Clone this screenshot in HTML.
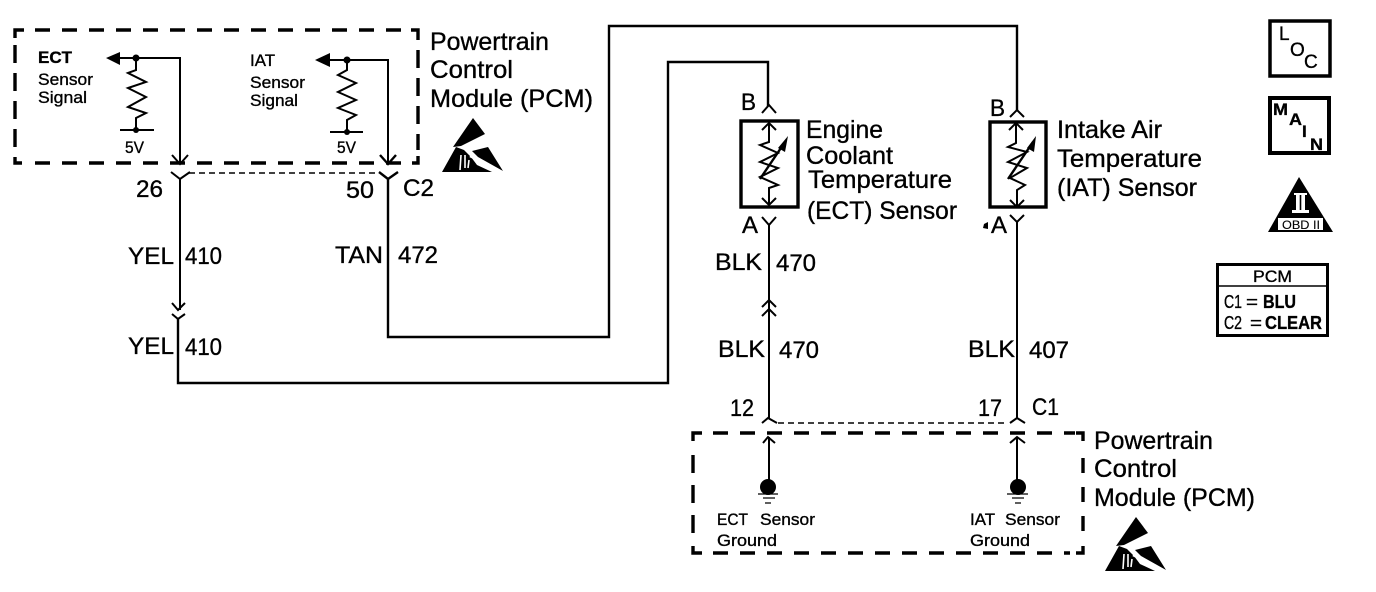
<!DOCTYPE html>
<html><head><meta charset="utf-8"><style>
html,body{margin:0;padding:0;background:#fff;width:1376px;height:592px;overflow:hidden}
svg{display:block}
text{font-family:"Liberation Sans",sans-serif;fill:#000;stroke:#000;stroke-width:.35}
.l{font-size:25px}.m{font-size:24px}.s{font-size:17px}
</style></head><body>
<svg width="1376" height="592" viewBox="0 0 1376 592" xmlns="http://www.w3.org/2000/svg">
<defs>
<g id="esd"><path d="M473 118L485 134L461 146L453 147Z"/><path d="M442 172L456 147L464 150L471 157L477 165L492 172Z"/><path d="M488 147L503 171L478 157L472 151Z"/><path d="M470 156L502 172" stroke="#fff" stroke-width="2.5" fill="none"/><path d="M461 155L460 170M465 155L465 168M469 160L468 168" stroke="#fff" stroke-width="1.6" fill="none"/></g>
</defs>
<g fill="none" stroke="#000">
<!-- dashed boxes -->
<g stroke-width="3.4">
<path d="M35 30H410" stroke-dasharray="15 12"/>
<path d="M15 38V30H24M411 30H418V40M15 157V163H22M412 163H418V156"/>
<path d="M15 45V150" stroke-dasharray="18 10"/>
<path d="M418 50V150" stroke-dasharray="18 10"/>
<path d="M35 163H405" stroke-dasharray="15 12"/>
<path d="M713 433H1075" stroke-dasharray="15 12"/>
<path d="M693 441V433H702M1076 433H1083V441M693 546V553H702M1076 553H1083V546"/>
<path d="M693 455V535" stroke-dasharray="18 12"/>
<path d="M1083 458V532" stroke-dasharray="15 14"/>
<path d="M713 553H1070" stroke-dasharray="15 12"/>
</g>
<!-- connector dashed -->
<path d="M189 173H378" stroke-width="1.6" stroke-dasharray="6 4"/>
<path d="M778 423H1008" stroke-width="1.6" stroke-dasharray="6 4"/>
<!-- wires -->
<path d="M120 58H180V164" stroke-width="2"/>
<path d="M330 60H388V164" stroke-width="2"/>
<path d="M180 178V310" stroke-width="2"/>
<path d="M178 319V383H668V62H768V106" stroke-width="2.4"/>
<path d="M388 178V337H609V26H1017V110" stroke-width="2.4"/>
<path d="M769 224V418" stroke-width="2"/>
<path d="M1017 222V418" stroke-width="2"/>
<path d="M769 437V482" stroke-width="2"/>
<path d="M1017 437V482" stroke-width="2"/>
<!-- connector arrows -->
<path d="M172 155L180 164L188 155M171 172L180 179L190 172" stroke-width="2"/>
<path d="M380 155L388 164L396 155M379 172L388 179L398 172" stroke-width="2.4"/>
<path d="M172 303L178 310L185 303M172 314L178 319L185 314" stroke-width="2"/>
<path d="M762 113L769 105L776 113" stroke-width="2"/>
<path d="M762 217L769 225L776 217" stroke-width="2"/>
<path d="M1010 117L1017 110L1024 117" stroke-width="2"/>
<path d="M1010 215L1017 222L1024 215" stroke-width="2"/>
<path d="M762 307L769 300L776 307M762 316L769 309L776 316" stroke-width="2"/>
<path d="M762 423L768 418L777 423M763 443L768 437L775 443" stroke-width="2"/>
<path d="M1010 423L1017 418L1025 423M1010 443L1017 437L1025 443" stroke-width="2"/>
<!-- sensors -->
<rect x="741" y="121" width="57" height="86" stroke-width="3.4"/>
<rect x="990" y="122" width="56" height="85" stroke-width="3.4"/>
<path d="M769 123V142L760 145L778 153L760 162L778 168L760 177L778 185L769 188V205M762 130L769 123L776 130M762 198L769 205L776 198" stroke-width="2"/>
<path d="M1016 123V143L1008 147L1027 152L1008 162L1027 168L1010 178L1025 185L1017 190V207M1009 130L1016 123L1023 130M1010 200L1017 207L1024 200" stroke-width="2"/>
<path d="M760 179L785 142" stroke-width="2.4"/>
<path d="M1008 179L1033 142" stroke-width="2.4"/>
<!-- resistors -->
<path d="M136 58V70L128 73L146 82L128 88L146 97L128 107L146 113L136 118V130M120 130H154" stroke-width="2"/>
<path d="M347 60V70L338 75L356 83L338 92L356 100L338 108L356 115L347 120V132M330 132H363" stroke-width="2"/>
<!-- grounds -->
<path d="M758 494H778M763 498H775M765 503H771" stroke-width="1.2"/>
<path d="M1007 494H1028M1012 498H1024M1015 503H1021" stroke-width="1.2"/>
<!-- badges -->
<rect x="1270" y="21" width="60" height="55" stroke-width="3.5"/>
<rect x="1270" y="98" width="59" height="55" stroke-width="4"/>
<rect x="1217.5" y="264.5" width="110" height="71" stroke-width="3"/>
<path d="M1218 286H1328" stroke-width="1.6"/>
</g>
<!-- solid marks -->
<path d="M106 58L120 52V65Z"/><path d="M315 60L330 53V67Z"/>
<circle cx="136" cy="58" r="3.5"/><circle cx="347" cy="60" r="3.5"/>
<circle cx="136" cy="130" r="3"/><circle cx="347" cy="132" r="3"/>
<path d="M788 136L785 152L778 148Z"/><path d="M1036 136L1034 152L1027 148Z"/>
<circle cx="768" cy="487" r="8"/><circle cx="1018" cy="487" r="8"/>
<path d="M984 224L988 222V229L983 228Z"/>
<path d="M1299 177L1333 232H1268Z"/>
<rect x="1278" y="218" width="45" height="12" fill="#fff"/>
<path d="M1294 193H1307V195H1305V210H1309V213H1292V210H1296V195H1294Z" fill="#fff"/>
<path d="M1300.5 195V210" stroke="#000" stroke-width="1.6"/>
<use href="#esd"/>
<use href="#esd" transform="translate(663 399)"/>
<!-- text -->
<text class="l" x="430" y="50" textLength="119" lengthAdjust="spacingAndGlyphs">Powertrain</text>
<text class="l" x="430" y="78" textLength="83" lengthAdjust="spacingAndGlyphs">Control</text>
<text class="l" x="430" y="107" textLength="163" lengthAdjust="spacingAndGlyphs">Module (PCM)</text>
<text class="l" x="1094" y="449" textLength="119" lengthAdjust="spacingAndGlyphs">Powertrain</text>
<text class="l" x="1094" y="477" textLength="83" lengthAdjust="spacingAndGlyphs">Control</text>
<text class="l" x="1094" y="506" textLength="161" lengthAdjust="spacingAndGlyphs">Module (PCM)</text>
<text class="s" x="38" y="63" style="font-weight:bold" textLength="34" lengthAdjust="spacingAndGlyphs">ECT</text>
<text class="s" x="38" y="85" textLength="55" lengthAdjust="spacingAndGlyphs">Sensor</text>
<text class="s" x="38" y="103" textLength="49" lengthAdjust="spacingAndGlyphs">Signal</text>
<text class="s" x="250" y="66" textLength="25" lengthAdjust="spacingAndGlyphs">IAT</text>
<text class="s" x="250" y="88" textLength="55" lengthAdjust="spacingAndGlyphs">Sensor</text>
<text class="s" x="250" y="106" textLength="48" lengthAdjust="spacingAndGlyphs">Signal</text>
<text class="s" x="125" y="153" textLength="19" lengthAdjust="spacingAndGlyphs">5V</text>
<text class="s" x="337" y="153" textLength="19" lengthAdjust="spacingAndGlyphs">5V</text>
<text class="m" x="136" y="197" textLength="27" lengthAdjust="spacingAndGlyphs">26</text>
<text class="m" x="346" y="198" textLength="28" lengthAdjust="spacingAndGlyphs">50</text>
<text class="m" x="403" y="196" textLength="31" lengthAdjust="spacingAndGlyphs">C2</text>
<text class="m" x="128" y="264" textLength="46" lengthAdjust="spacingAndGlyphs">YEL</text>
<text class="m" x="185" y="264" textLength="37" lengthAdjust="spacingAndGlyphs">410</text>
<text class="m" x="128" y="354" textLength="46" lengthAdjust="spacingAndGlyphs">YEL</text>
<text class="m" x="185" y="355" textLength="37" lengthAdjust="spacingAndGlyphs">410</text>
<text class="m" x="335" y="263" textLength="48" lengthAdjust="spacingAndGlyphs">TAN</text>
<text class="m" x="398" y="263" textLength="40" lengthAdjust="spacingAndGlyphs">472</text>
<text class="m" x="741" y="110" textLength="15" lengthAdjust="spacingAndGlyphs">B</text>
<text class="m" x="990" y="116" textLength="15" lengthAdjust="spacingAndGlyphs">B</text>
<text class="m" x="742" y="233" textLength="16" lengthAdjust="spacingAndGlyphs">A</text>
<text class="m" x="991" y="233" textLength="16" lengthAdjust="spacingAndGlyphs">A</text>
<text class="l" x="806" y="138" textLength="77" lengthAdjust="spacingAndGlyphs">Engine</text>
<text class="l" x="806" y="164" textLength="87" lengthAdjust="spacingAndGlyphs">Coolant</text>
<text class="l" x="808" y="188" textLength="144" lengthAdjust="spacingAndGlyphs">Temperature</text>
<text class="l" x="807" y="219" textLength="150" lengthAdjust="spacingAndGlyphs">(ECT) Sensor</text>
<text class="l" x="1057" y="138" textLength="105" lengthAdjust="spacingAndGlyphs">Intake Air</text>
<text class="l" x="1057" y="167" textLength="145" lengthAdjust="spacingAndGlyphs">Temperature</text>
<text class="l" x="1057" y="196" textLength="140" lengthAdjust="spacingAndGlyphs">(IAT) Sensor</text>
<text class="m" x="715" y="270" textLength="47" lengthAdjust="spacingAndGlyphs">BLK</text>
<text class="m" x="776" y="271" textLength="40" lengthAdjust="spacingAndGlyphs">470</text>
<text class="m" x="718" y="357" textLength="47" lengthAdjust="spacingAndGlyphs">BLK</text>
<text class="m" x="779" y="358" textLength="40" lengthAdjust="spacingAndGlyphs">470</text>
<text class="m" x="968" y="357" textLength="47" lengthAdjust="spacingAndGlyphs">BLK</text>
<text class="m" x="1029" y="358" textLength="40" lengthAdjust="spacingAndGlyphs">407</text>
<text class="m" x="730" y="416" textLength="24" lengthAdjust="spacingAndGlyphs">12</text>
<text class="m" x="978" y="416" textLength="24" lengthAdjust="spacingAndGlyphs">17</text>
<text class="m" x="1032" y="415" textLength="27" lengthAdjust="spacingAndGlyphs">C1</text>
<text class="s" x="717" y="525" textLength="31" lengthAdjust="spacingAndGlyphs">ECT</text>
<text class="s" x="760" y="525" textLength="55" lengthAdjust="spacingAndGlyphs">Sensor</text>
<text class="s" x="717" y="546" textLength="60" lengthAdjust="spacingAndGlyphs">Ground</text>
<text class="s" x="970" y="525" textLength="25" lengthAdjust="spacingAndGlyphs">IAT</text>
<text class="s" x="1005" y="525" textLength="55" lengthAdjust="spacingAndGlyphs">Sensor</text>
<text class="s" x="970" y="546" textLength="60" lengthAdjust="spacingAndGlyphs">Ground</text>
<text x="1279" y="40" style="font-size:19px">L</text><text x="1290" y="56" style="font-size:19px">O</text><text x="1304" y="68" style="font-size:19px">C</text>
<text x="1273" y="115" style="font-size:17px;font-weight:bold" textLength="15" lengthAdjust="spacingAndGlyphs">M</text><text x="1289" y="125" style="font-size:17px;font-weight:bold" textLength="13" lengthAdjust="spacingAndGlyphs">A</text><text x="1302" y="137" style="font-size:17px;font-weight:bold">I</text><text x="1310" y="150" style="font-size:17px;font-weight:bold" textLength="13" lengthAdjust="spacingAndGlyphs">N</text>
<text x="1282" y="229" style="font-size:12px;stroke-width:.1" textLength="38" lengthAdjust="spacingAndGlyphs">OBD II</text>
<text x="1253" y="282" style="font-size:17px" textLength="39" lengthAdjust="spacingAndGlyphs">PCM</text>
<text x="1224" y="308" style="font-size:18px" textLength="18" lengthAdjust="spacingAndGlyphs">C1</text>
<text x="1246" y="308" style="font-size:18px" textLength="12" lengthAdjust="spacingAndGlyphs">=</text>
<text x="1263" y="308" style="font-size:18px;font-weight:bold" textLength="33" lengthAdjust="spacingAndGlyphs">BLU</text>
<text x="1224" y="329" style="font-size:18px" textLength="18" lengthAdjust="spacingAndGlyphs">C2</text>
<text x="1250" y="329" style="font-size:18px" textLength="12" lengthAdjust="spacingAndGlyphs">=</text>
<text x="1265" y="329" style="font-size:18px;font-weight:bold" textLength="57" lengthAdjust="spacingAndGlyphs">CLEAR</text>
</svg>
</body></html>
